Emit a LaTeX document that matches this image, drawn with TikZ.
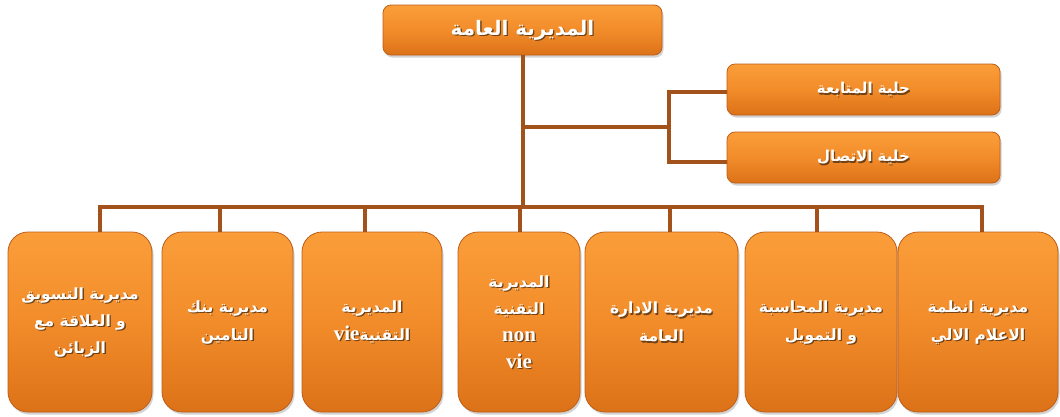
\documentclass[tikz,border=0pt]{standalone}
\usepackage{fontspec}
\setmainfont{Liberation Serif}
\newfontfamily\arfont[Script=Arabic]{DejaVu Sans}
\TeXXeTstate=1
\usetikzlibrary{shadows,calc}
\definecolor{boxtop}{HTML}{FA9E3A}
\definecolor{boxmid}{HTML}{F28C2A}
\definecolor{boxbot}{HTML}{DC7218}
\definecolor{boxrim}{HTML}{BF5E18}
\definecolor{linebrown}{HTML}{A3521C}
\definecolor{txtshadow}{HTML}{3A2410}
\newcommand{\AR}[1]{\beginR #1\endR}
\newcommand{\LT}[1]{{\rmfamily\bfseries\fontsize{21}{27}\selectfont #1}}
\newcommand{\boxtext}[3]{%
  \node[txtsh, font=#2] (#1-s) at ($(#1.center)+(1.3,-1.3)$) {#3};
  \node[txtw, font=#2] (#1-t) at (#1.center) {#3};}
\tikzset{
  orgbox/.style={draw=boxrim, line width=0.8pt, top color=boxtop, bottom color=boxbot,
    middle color=boxmid, inner sep=0pt,
    drop shadow={shadow xshift=1.5pt, shadow yshift=-2.5pt, opacity=0.35}},
  topbox/.style={orgbox, rounded corners=8pt},
  bigbox/.style={orgbox, rounded corners=20pt, minimum height=180pt},
  txtw/.style={text=white, align=center, inner sep=0pt},
  txtsh/.style={text=txtshadow, text opacity=0.7, align=center, inner sep=0pt},
  conn/.style={draw=linebrown, line width=4pt},
}
\begin{document}
\begin{tikzpicture}[x=1pt,y=1pt]
\fill[white] (0,0) rectangle (1060,-416);
\useasboundingbox (0,0) rectangle (1060,-416);
% boxes
\node[topbox, minimum width=279pt, minimum height=50pt] (top) at (522.5,-30) {};
\node[topbox, minimum width=273pt, minimum height=51pt] (r1) at (863.5,-89.5) {};
\node[topbox, minimum width=273pt, minimum height=51pt] (r2) at (863.5,-157.5) {};
\node[bigbox, minimum width=144pt] (b1) at (80,-322) {};
\node[bigbox, minimum width=131pt] (b2) at (227.5,-322) {};
\node[bigbox, minimum width=140pt] (b3) at (372,-322) {};
\node[bigbox, minimum width=122pt] (b4) at (519,-322) {};
\node[bigbox, minimum width=153pt] (b5) at (661.5,-322) {};
\node[bigbox, minimum width=152pt] (b6) at (821,-322) {};
\node[bigbox, minimum width=160pt] (b7) at (978,-322) {};
% connectors
\coordinate (busL) at (100,-207);
\coordinate (busR) at (982,-207);
\coordinate (j) at (top.south |- 0,-127);
\coordinate (k) at (669,-127);
\draw[conn] (top.south) -- (top.south |- busL);
\draw[conn, line cap=rect] (busL) -- (busR);
\draw[conn] (j) -- (k);
\draw[conn] ($(r1.west)+(0,-2.5)$) -- ($(r1.west -| k)+(0,-2.5)$) -- ($(r2.west -| k)+(0,-4)$) -- ($(r2.west)+(0,-4)$);
\coordinate (d1) at (100,-207);
\coordinate (d2) at (220,-207);
\coordinate (d3) at (365,-207);
\coordinate (d4) at (520,-207);
\coordinate (d5) at (670,-207);
\coordinate (d6) at (817,-207);
\coordinate (d7) at (982,-207);
\foreach \i in {1,...,7} {\draw[conn] (d\i) -- (d\i |- b\i.north);}
% texts
\boxtext{top}{\arfont\bfseries\fontsize{20}{24}\selectfont}{\AR{المديرية العامة}}
\boxtext{r1}{\arfont\bfseries\fontsize{15}{18}\selectfont}{\AR{حلية المتابعة}}
\boxtext{r2}{\arfont\bfseries\fontsize{15}{18}\selectfont}{\AR{خلية الاتصال}}
\boxtext{b1}{\arfont\bfseries\fontsize{15.5}{27}\selectfont}{\AR{مديرية التسويق}\\\AR{و العلاقة مع}\\\AR{الزبائن}}
\boxtext{b2}{\arfont\bfseries\fontsize{15.5}{28}\selectfont}{\AR{مديرية بنك}\\\AR{التامين}}
\boxtext{b3}{\arfont\bfseries\fontsize{15.5}{28}\selectfont}{\AR{المديرية}\\\AR{التقنية\beginL\LT{vie}\endL}}
\boxtext{b4}{\arfont\bfseries\fontsize{15.5}{27}\selectfont}{\AR{المديرية}\\\AR{التقنية}\\\LT{non}\\\LT{vie}}
\boxtext{b5}{\arfont\bfseries\fontsize{15.5}{28}\selectfont}{\AR{مديرية الادارة}\\\AR{العامة}}
\boxtext{b6}{\arfont\bfseries\fontsize{15.5}{28}\selectfont}{\AR{مديرية المحاسبة}\\\AR{و التمويل}}
\boxtext{b7}{\arfont\bfseries\fontsize{15.5}{28}\selectfont}{\AR{مديرية انظمة}\\\AR{الاعلام الالي}}
\end{tikzpicture}
\end{document}
